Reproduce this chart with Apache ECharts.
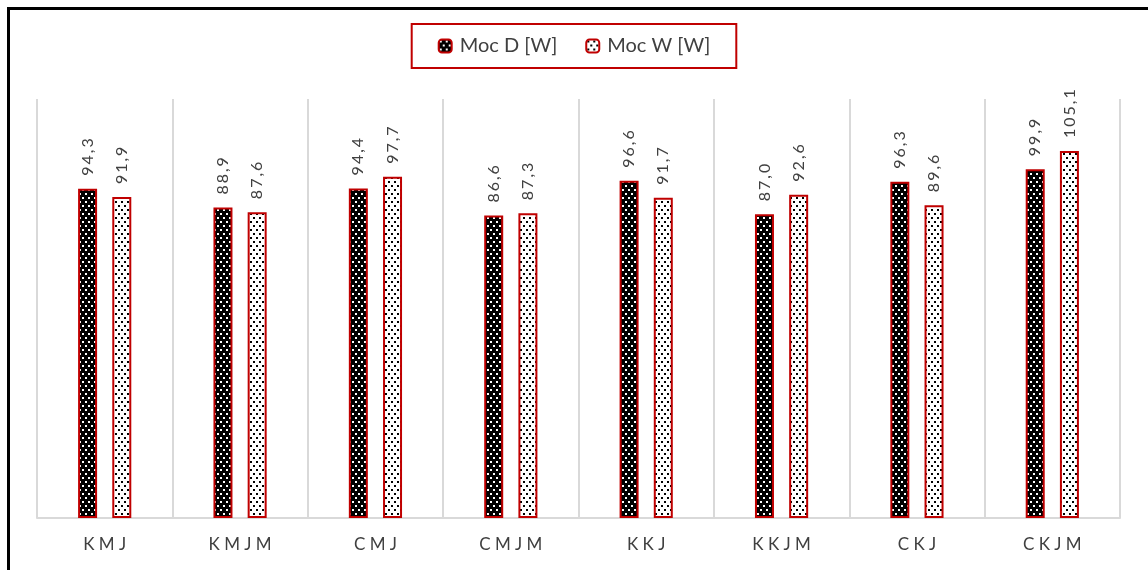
<!DOCTYPE html>
<html><head><meta charset="utf-8">
<style>html,body{margin:0;padding:0;background:#fff}#c{width:1148px;height:570px}</style>
<script src="https://cdn.jsdelivr.net/npm/echarts@6/dist/echarts.min.js"></script>
</head><body><div id="c"></div>
<script>
const categories = ['KMJ','KMJM','CMJ','CMJM','KKJ','KKJM','CKJ','CKJM'];
const mocD = [94.3, 88.9, 94.4, 86.6, 96.6, 87.0, 96.3, 99.9];
const mocW = [91.9, 87.6, 97.7, 87.3, 91.7, 92.6, 89.6, 105.1];
const seriesNames = ['Moc D [W]', 'Moc W [W]'];

function pattern(bg, dot){
  const c = document.createElement('canvas');
  c.width = 6; c.height = 8;
  const g = c.getContext('2d');
  g.fillStyle = bg; g.fillRect(0,0,6,8);
  g.fillStyle = dot;
  g.fillRect(1,1,2,2);
  g.fillRect(4,5,2,2);
  return c;
}
const darkPat = {image: pattern('#000','#fff'), repeat:'repeat'};
const lightPat = {image: pattern('#fff','#000'), repeat:'repeat'};
const fmt = p => p.value.toFixed(1).replace('.', ',').split('').join('\u2009');
const font = 'Lato, "Open Sans", sans-serif';

const chart = echarts.init(document.getElementById('c'));
chart.setOption({
  animation:false,
  backgroundColor:'#fff',
  graphic:[{type:'rect', shape:{x:8.5,y:8.5,width:2000,height:2000}, style:{fill:'none',stroke:'#000',lineWidth:3}}],
  legend:{
    top:24, left:'center', itemWidth:13, itemHeight:13, itemGap:28,
    padding:[12,26,12,26],
    borderColor:'#c00000', borderWidth:2,
    textStyle:{fontSize:20, color:'#404040', fontFamily:font, padding:[0,0,0,3]},
    data:[
      {name:seriesNames[0], itemStyle:{color:darkPat, borderColor:'#c00000', borderWidth:2}},
      {name:seriesNames[1], itemStyle:{color:lightPat, borderColor:'#c00000', borderWidth:2}}
    ]
  },
  grid:{left:37, right:28, top:99, bottom:52},
  xAxis:{
    type:'category', data:categories,
    axisLine:{lineStyle:{color:'#d9d9d9', width:2}},
    axisTick:{show:false},
    splitLine:{show:true, lineStyle:{color:'#d9d9d9', width:2}},
    axisLabel:{fontSize:17, color:'#404040', fontFamily:font, margin:18, formatter:v=>v.split('').join(' ')}
  },
  yAxis:{type:'value', min:0, max:120, show:false, splitLine:{show:false}},
  series:[
    {name:seriesNames[0], type:'bar', data:mocD, barWidth:19, barGap:'80%',
     itemStyle:{color:darkPat, borderColor:'#c00000', borderWidth:2},
     label:{show:true, position:'top', rotate:90, align:'left', verticalAlign:'middle', distance:13,
            formatter:fmt, fontSize:16, color:'#404040', fontFamily:font}},
    {name:seriesNames[1], type:'bar', data:mocW, barWidth:19,
     itemStyle:{color:lightPat, borderColor:'#c00000', borderWidth:2},
     label:{show:true, position:'top', rotate:90, align:'left', verticalAlign:'middle', distance:13,
            formatter:fmt, fontSize:16, color:'#404040', fontFamily:font}}
  ]
});
</script></body></html>
